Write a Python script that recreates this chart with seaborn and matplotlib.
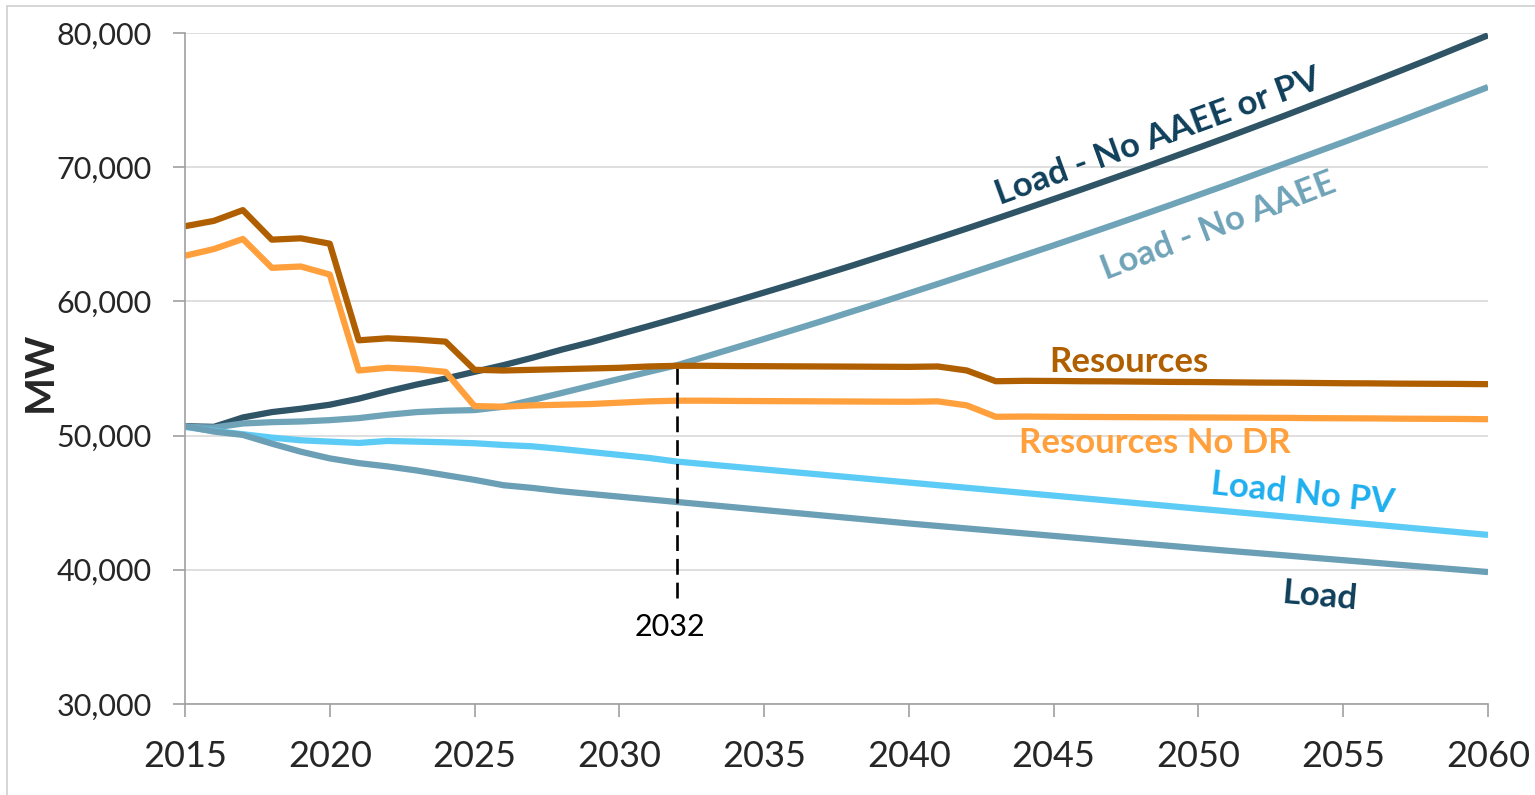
import numpy as np
import pandas as pd
import matplotlib
matplotlib.use("Agg")
import matplotlib.pyplot as plt
from matplotlib.lines import Line2D
import seaborn as sns

# ---------------------------------------------------------------------------
# data (MW, one value per year 2015..2060)
# ---------------------------------------------------------------------------
years = list(range(2015, 2061))

load_no_aaee_or_pv = [
    50700, 50650, 51350, 51750, 52000, 52300, 52750, 53300, 53800, 54250,
    54750, 55250, 55800, 56400, 56950, 57550, 58150, 58760, 59385, 60020,
    60660, 61310, 61970, 62640, 63330, 64020, 64720, 65430, 66150, 66880,
    67620, 68370, 69130, 69890, 70670, 71450, 72240, 73050, 73860, 74690,
    75520, 76360, 77210, 78070, 78950, 79830]

load_no_aaee = [
    50650, 50600, 50900, 51000, 51050, 51150, 51300, 51550, 51750, 51850,
    51900, 52150, 52650, 53170, 53700, 54220, 54740, 55250, 55894, 56545,
    57200, 57865, 58535, 59220, 59900, 60600, 61300, 62010, 62730, 63450,
    64175, 64910, 65650, 66400, 67160, 67930, 68700, 69490, 70280, 71070,
    71860, 72670, 73480, 74310, 75140, 75970]

resources = [
    65600, 66000, 66800, 64600, 64700, 64300, 57100, 57250, 57150, 57000,
    54900, 54850, 54900, 54950, 55000, 55050, 55150, 55200, 55200, 55180,
    55170, 55160, 55150, 55140, 55130, 55120, 55150, 54850, 54050, 54080,
    54070, 54050, 54040, 54020, 54000, 53990, 53970, 53950, 53940, 53920,
    53900, 53890, 53870, 53860, 53850, 53830]

resources_no_dr = [
    63400, 63900, 64650, 62500, 62600, 62000, 54850, 55050, 54950, 54750,
    52200, 52150, 52250, 52300, 52350, 52450, 52550, 52600, 52600, 52580,
    52570, 52560, 52550, 52540, 52530, 52520, 52550, 52250, 51400, 51420,
    51400, 51390, 51380, 51370, 51360, 51350, 51340, 51330, 51320, 51300,
    51290, 51280, 51260, 51250, 51240, 51220]

load_no_pv = [
    50650, 50350, 50100, 49850, 49650, 49550, 49450, 49600, 49550, 49500,
    49430, 49300, 49200, 49000, 48780, 48560, 48340, 48060, 47865, 47670,
    47475, 47280, 47085, 46890, 46695, 46500, 46305, 46110, 45915, 45720,
    45525, 45330, 45135, 44940, 44745, 44550, 44355, 44160, 43965, 43770,
    43575, 43380, 43185, 42990, 42795, 42600]

load = [
    50700, 50300, 50050, 49400, 48800, 48300, 47950, 47700, 47400, 47050,
    46700, 46300, 46100, 45850, 45650, 45450, 45250, 45050, 44850, 44650,
    44450, 44250, 44050, 43850, 43650, 43450, 43265, 43080, 42895, 42710,
    42525, 42340, 42155, 41970, 41785, 41600, 41420, 41245, 41070, 40890,
    40715, 40540, 40360, 40185, 40010, 39830]

crossover_year = 2032
crossover_mw = 55200
x_ticks = list(range(2015, 2061, 5))
y_ticks = list(range(30000, 80001, 10000))

# ---------------------------------------------------------------------------
# styling
# ---------------------------------------------------------------------------
sns.set_style("white")
plt.rcParams['font.family'] = ['Lato', 'DejaVu Sans']

series = [
    # name, values, line colour, label colour, label pos (year, MW), rotation
    ("Load - No AAEE or PV", load_no_aaee_or_pv, "#2E5466", "#0F3F5A", (2048.6, 72300), 20),
    ("Load - No AAEE", load_no_aaee, "#6FA3B8", "#6FA3B8", (2050.7, 65600), 21),
    ("Resources", resources, "#B05F00", "#B05F00", (2047.6, 55450), 0),
    ("Resources No DR", resources_no_dr, "#FFA03C", "#FFA03C", (2048.5, 49450), 0),
    ("Load No PV", load_no_pv, "#5CCBF5", "#1FAFEE", (2053.6, 45650), -6),
    ("Load", load, "#6B9FB5", "#0F3F5A", (2054.2, 38000), -5),
]

fig = plt.figure(figsize=(15.35, 7.95), dpi=100)
ax = fig.add_axes([0.1205, 0.1145, 0.8489, 0.844])

for name, vals, lc, tc, pos, rot in series:
    df = pd.DataFrame({"year": years, "MW": vals})
    sns.lineplot(data=df, x="year", y="MW", color=lc, lw=4.5, ax=ax,
                 solid_joinstyle="round", solid_capstyle="butt")
    ax.text(pos[0], pos[1], name, color=tc, fontsize=25, fontweight="bold",
            rotation=rot, rotation_mode="anchor", ha="center", va="center")

# 2032 crossover marker
ax.plot([crossover_year, crossover_year], [37900, crossover_mw], color="black",
        lw=1.9, linestyle=(0, (6, 3)), zorder=5)
ax.text(crossover_year - 0.25, 35700, str(crossover_year), fontsize=22,
        ha="center", va="center", color="black")

ax.set_xlim(2015, 2060)
ax.set_ylim(30000, 80000)
ax.set_xticks(x_ticks)
ax.set_yticks(y_ticks)
ax.set_yticklabels([f"{v:,}" for v in y_ticks])
ax.set_xlabel("")
ax.set_ylabel("")

ax.grid(axis="y", color="#D9D9D9", lw=1.2)
ax.set_axisbelow(True)
for side in ["top", "right"]:
    ax.spines[side].set_visible(False)
for side in ["left", "bottom"]:
    ax.spines[side].set_color("#A0A0A0")
    ax.spines[side].set_linewidth(1.2)

ax.tick_params(axis="y", direction="out", length=9, width=1.2, color="#A0A0A0",
               labelsize=22, pad=15, left=True)
ax.tick_params(axis="x", direction="out", length=9, width=1.2, color="#A0A0A0",
               labelsize=26, pad=17, bottom=True)

fig.text(40 / 1535, 1 - 372 / 795, "MW", rotation=90, fontsize=29,
         fontweight="bold", ha="center", va="center")

# thin frame around the slide area
fig.add_artist(Line2D([7 / 1535, 7 / 1535], [0, 1 - 6 / 795], color="#D0D0D0", lw=1.2))
fig.add_artist(Line2D([7 / 1535, 1], [1 - 6 / 795, 1 - 6 / 795], color="#D0D0D0", lw=1.2))

plt.savefig("out.png", dpi=100)
